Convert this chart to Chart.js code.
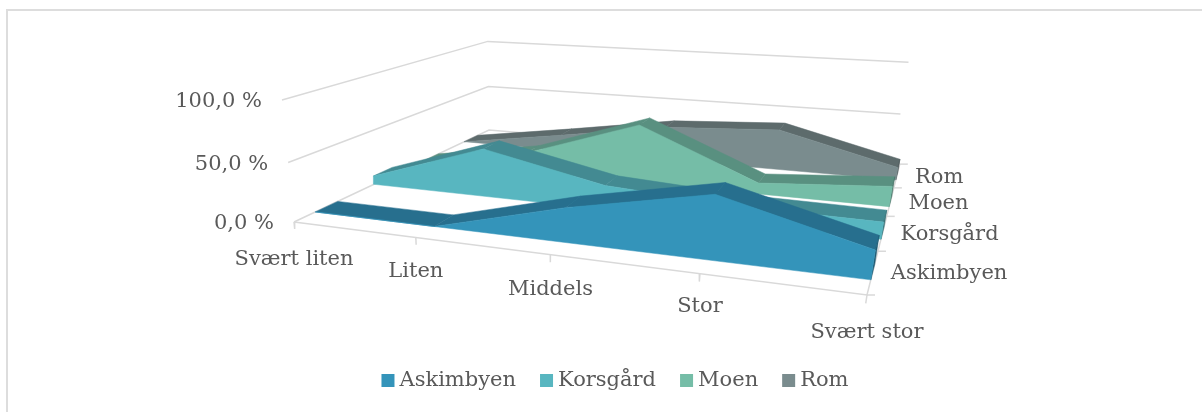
<!DOCTYPE html>
<html>
<head>
<meta charset="utf-8">
<style>
html, body { margin: 0; padding: 0; background: #fff; }
#wrap { position: relative; width: 1202px; height: 412px; }
</style>
<script src="https://cdn.jsdelivr.net/npm/chart.js@4"></script>
</head>
<body>
<div id="wrap"><canvas id="chart"></canvas></div>
<script>
"use strict";

var categories = ["Svært liten", "Liten", "Middels", "Stor", "Svært stor"];
var seriesNames = ["Askimbyen", "Korsgård", "Moen", "Rom"];
var valueTicks = [0, 50, 100];
var valueTickLabels = ["0,0 %", "50,0 %", "100,0 %"];

var askimbyen = [0, 0, 28, 50, 22];
var korsgard = [8, 43, 21, 15, 14];
var moen = [0, 18, 54, 10, 18];
var rom = [0, 16, 33, 39, 12];
var seriesValues = [askimbyen, korsgard, moen, rom];

var frontColors = ["#3494BA", "#58B6C0", "#75BDA7", "#7A8C8E"];
var topColors = ["#276F8E", "#438A92", "#599080", "#5D6B6C"];
var endColors = ["#1F5A73", "#367177", "#487568", "#4B5758"];
var gridColor = "#D9D9D9";
var textColor = "#595959";
var textFont = "21px 'DejaVu Serif', serif";

// perspective box: floor front-left, then the far end of each axis and how it foreshortens
var origin = [294, 222];
var uEnd = [867, 295], uPersp = 0.81;
var vEnd = [489, 130], vPersp = 1.41;
var wEnd = [282, 100], wPersp = 0.95;

// how far each category label hangs under the floor edge
var categoryDrop = [38, 34, 35, 33, 38];

function project(u, v, w) {
    var d = 1 + u * (uPersp - 1) + v * (vPersp - 1) + w * (wPersp - 1);
    var out = [0, 1].map(function (i) {
        return (origin[i]
            + u * (uPersp * uEnd[i] - origin[i])
            + v * (vPersp * vEnd[i] - origin[i])
            + w * (wPersp * wEnd[i] - origin[i])) / d;
    });
    return { x: out[0], y: out[1] };
}

var lastCat = categories.length - 1;
var maxValue = valueTicks[valueTicks.length - 1];
var bandDepth = 1 / seriesNames.length;
var inset = 0.08;

function catU(i) { return i / lastCat; }

function flat(color, points) {
    return {
        data: points,
        showLine: true,
        fill: "shape",
        backgroundColor: color,
        borderColor: color,
        borderWidth: 0.5,
        pointRadius: 0,
    };
}

function rule(points) {
    return {
        data: points,
        showLine: true,
        fill: false,
        borderColor: gridColor,
        borderWidth: 1.5,
        pointRadius: 0,
    };
}

var paintOrder = [];

// walls and floor
valueTicks.forEach(function (t) {
    var w = t / maxValue;
    var gridEnd = t === 0 ? 1 : 0.985;
    paintOrder.push(rule([project(0, 0, w), project(0, 1, w), project(gridEnd, 1, w)]));
});
paintOrder.push(rule([project(0, 0, 0), project(1, 0, 0), project(1, 1, 0)]));
categories.forEach(function (c, i) {
    paintOrder.push(rule([project(catU(i), 0, 0), project(catU(i), 0, -0.06)]));
});
for (var t = 0; t <= seriesNames.length; t++) {
    var p = project(1, t * bandDepth, 0);
    paintOrder.push(rule([p, { x: p.x + 8, y: p.y }]));
}

// ribbons, back one first
for (var s = seriesNames.length - 1; s >= 0; s--) {
    var vf = s * bandDepth + inset;
    var vb = (s + 1) * bandDepth - inset;
    var vals = seriesValues[s];
    var w = vals.map(function (x) { return x / maxValue; });

    vals.forEach(function (x, i) {
        if (i === lastCat) return;
        var a = catU(i), b = catU(i + 1);
        paintOrder.push(flat(topColors[s], [
            project(a, vf, w[i]), project(b, vf, w[i + 1]),
            project(b, vb, w[i + 1]), project(a, vb, w[i]), project(a, vf, w[i]),
        ]));
    });

    paintOrder.push(flat(endColors[s], [
        project(1, vf, 0), project(1, vf, w[lastCat]),
        project(1, vb, w[lastCat]), project(1, vb, 0), project(1, vf, 0),
    ]));

    var face = vals.map(function (x, i) { return project(catU(i), vf, w[i]); });
    face.push(project(1, vf, 0), project(0, vf, 0), face[0]);
    paintOrder.push(flat(frontColors[s], face));
}

// chart.js paints the first dataset last
var datasets = paintOrder.reverse();

var chartDecor = {
    id: "chartDecor",
    beforeDraw: function (chart) {
        var ctx = chart.ctx;
        ctx.save();
        ctx.strokeStyle = "#DDDDDD";
        ctx.lineWidth = 2;
        ctx.strokeRect(7, 10, 1300, 500);
        ctx.restore();
    },
    afterDraw: function (chart) {
        var ctx = chart.ctx;
        var sx = chart.scales.x, sy = chart.scales.y;
        ctx.save();
        ctx.fillStyle = textColor;
        ctx.font = textFont;
        ctx.textBaseline = "middle";

        ctx.textAlign = "right";
        valueTicks.forEach(function (t, i) {
            var p = project(0, 0, t / maxValue);
            ctx.fillText(valueTickLabels[i], sx.getPixelForValue(p.x) - 20, sy.getPixelForValue(p.y) + 2);
        });

        ctx.textAlign = "center";
        categories.forEach(function (c, i) {
            var p = project(catU(i), 0, 0);
            ctx.fillText(c, sx.getPixelForValue(p.x), sy.getPixelForValue(p.y) + categoryDrop[i]);
        });

        ctx.textAlign = "left";
        seriesNames.forEach(function (n, i) {
            var p = project(1, (i + 0.5) * bandDepth, 0);
            ctx.fillText(n, sx.getPixelForValue(p.x) + 18, sy.getPixelForValue(p.y) + 2);
        });

        // legend
        var widths = seriesNames.map(function (n) { return ctx.measureText(n).width; });
        var total = widths.reduce(function (a, b) { return a + b + 18; }, 0) + 24 * (seriesNames.length - 1);
        var lx = 615 - total / 2;
        seriesNames.forEach(function (n, i) {
            ctx.fillStyle = frontColors[i];
            ctx.fillRect(lx, 374, 13, 13);
            ctx.fillStyle = textColor;
            ctx.fillText(n, lx + 18, 381);
            lx += 18 + widths[i] + 24;
        });
        ctx.restore();
    },
};

new Chart(document.getElementById("chart"), {
    type: "scatter",
    data: { datasets: datasets },
    options: {
        responsive: true,
        maintainAspectRatio: false,
        animation: false,
        layout: { padding: 0 },
        scales: {
            x: { display: false, min: 0, max: 1202 },
            y: { display: false, reverse: true, min: 0, max: 412 },
        },
        plugins: {
            tooltip: { enabled: false },
            legend: { display: false },
        },
    },
    plugins: [chartDecor],
});
</script>
</body>
</html>
